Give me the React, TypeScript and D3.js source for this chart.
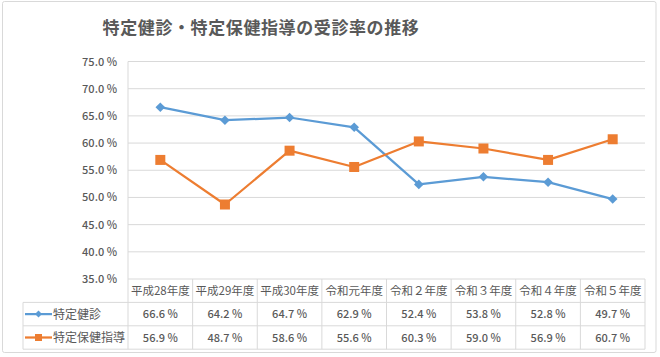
import React from "react";
import * as d3 from "d3";

const categories = ["平成28年度", "平成29年度", "平成30年度", "令和元年度", "令和２年度", "令和３年度", "令和４年度", "令和５年度"];
const seriesNames = ["特定健診", "特定保健指導"];
const kenshin = [66.6, 64.2, 64.7, 62.9, 52.4, 53.8, 52.8, 49.7];
const hokenShido = [56.9, 48.7, 58.6, 55.6, 60.3, 59.0, 56.9, 60.7];
const yTicks = [35, 40, 45, 50, 55, 60, 65, 70, 75];
const colors = ["#5B9BD5", "#ED7D31"];

const W = 660, H = 357;
const plotL = 128, plotR = 645, plotT = 61.5, plotB = 279;
const rowH = 23.4;
const legendL = 23;
const FONT = "'Noto Sans CJK JP', 'Noto Sans', sans-serif";

export default function App() {
  const x = d3.scaleBand<string>().domain(categories).range([plotL, plotR]);
  const y = d3.scaleLinear().domain([35, 75]).range([plotB, plotT]);
  const line = d3.line<number>()
    .x((_, i) => (x(categories[i]) as number) + x.bandwidth() / 2)
    .y((d) => y(d));
  const series = [kenshin, hokenShido];
  const row1 = plotB + rowH;
  const row2 = row1 + rowH;
  const row3 = row2 + rowH;
  const fmt = (v: number) => v.toFixed(1) + " %";

  const marker = (k: number, cx: number, cy: number, key: string) =>
    k === 0 ? (
      <path key={key} d={`M${cx},${cy - 4.8}L${cx + 4.8},${cy}L${cx},${cy + 4.8}L${cx - 4.8},${cy}Z`} fill={colors[0]} />
    ) : (
      <rect key={key} x={cx - 5} y={cy - 5} width={10} height={10} fill={colors[1]} />
    );

  return (
    <div style={{ position: "absolute", left: 0, top: 0 }}>
      <svg width={W} height={H} style={{ display: "block", fontFamily: FONT }}>
        <rect x={0} y={0} width={W} height={H} fill="#fff" />
        <rect x={2.5} y={1.5} width={653.5} height={351} fill="#fff" stroke="#D9D9D9" strokeWidth={1} rx={2} />
        <text x={261} y={34} textAnchor="middle" fontSize={17} fontWeight={700} fill="#595959" letterSpacing={0.6}>
          特定健診・特定保健指導の受診率の推移
        </text>
        {/* gridlines */}
        {yTicks.map((t) => (
          <line key={t} x1={plotL} x2={plotR} y1={y(t)} y2={y(t)} stroke="#D9D9D9" strokeWidth={1} />
        ))}
        {yTicks.map((t) => (
          <text key={"l" + t} x={117} y={y(t) + 4} textAnchor="end" fontSize={11} fontWeight={500} fill="#595959">
            {fmt(t)}
          </text>
        ))}
        <line x1={plotL} x2={plotL} y1={plotT} y2={plotB} stroke="#D9D9D9" />
        {/* data table */}
        {[row1, row2, row3].map((ry, i) => (
          <line key={"h" + i} x1={legendL} x2={plotR} y1={ry} y2={ry} stroke="#D9D9D9" />
        ))}
        <line x1={legendL} x2={legendL} y1={row1} y2={row3} stroke="#D9D9D9" />
        {categories.map((c, i) => (
          <line key={"v" + i} x1={(x(c) as number)} x2={(x(c) as number)} y1={plotB} y2={row3} stroke="#D9D9D9" />
        ))}
        <line x1={plotR} x2={plotR} y1={plotB} y2={row3} stroke="#D9D9D9" />
        {categories.map((c) => (
          <text key={"c" + c} x={(x(c) as number) + x.bandwidth() / 2} y={plotB + 16} textAnchor="middle" fontSize={11.5} fill="#595959">
            {c}
          </text>
        ))}
        {series.map((s, k) =>
          s.map((v, i) => (
            <text key={"t" + k + i} x={(x(categories[i]) as number) + x.bandwidth() / 2} y={(k === 0 ? row1 : row2) + 16} textAnchor="middle" fontSize={11} fontWeight={500} fill="#595959">
              {fmt(v)}
            </text>
          ))
        )}
        {seriesNames.map((n, k) => {
          const cy = (k === 0 ? row1 : row2) + rowH / 2;
          return (
            <g key={"lg" + k}>
              <line x1={25} x2={52} y1={cy} y2={cy} stroke={colors[k]} strokeWidth={2.25} />
              {k === 0 ? (
                <path d={`M38.5,${cy - 3.5}L42,${cy}L38.5,${cy + 3.5}L35,${cy}Z`} fill={colors[0]} />
              ) : (
                <rect x={35} y={cy - 3.5} width={7} height={7} fill={colors[1]} />
              )}
              <text x={53} y={cy + 4.5} fontSize={12} fill="#595959">{n}</text>
            </g>
          );
        })}
        {/* lines */}
        {series.map((s, k) => (
          <path key={"p" + k} d={line(s) as string} fill="none" stroke={colors[k]} strokeWidth={2.25} strokeLinejoin="round" />
        ))}
        {series.map((s, k) =>
          s.map((v, i) => marker(k, (x(categories[i]) as number) + x.bandwidth() / 2, y(v), "m" + k + i))
        )}
      </svg>
    </div>
  );
}
